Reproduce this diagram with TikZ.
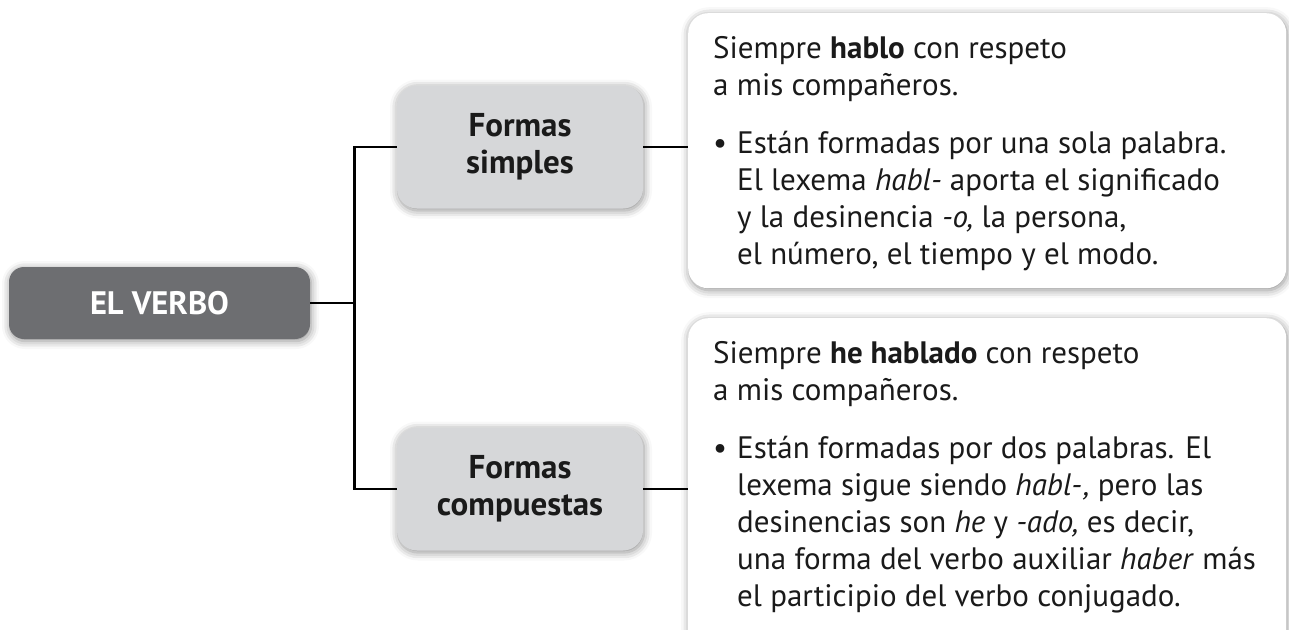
\documentclass[tikz,border=0pt]{standalone}
\usepackage{fontspec}
\setmainfont{PT Sans}
\usepackage{xcolor}
\usetikzlibrary{calc,shadows.blur}
\definecolor{verbogray}{HTML}{6D6E71}
\definecolor{formagray}{HTML}{D6D7D9}
\definecolor{inkblack}{HTML}{1A1A1A}
\newcommand{\bulitem}{\makebox[24pt][l]{\textbullet}}
\newcommand{\bulind}{\hspace*{24pt}}

\begin{document}
\begin{tikzpicture}[x=1pt,y=-1pt,
  % soft shadow shared by all boxes
  softshadow/.style={blur shadow={shadow xshift=1pt, shadow yshift=-2pt, shadow blur radius=8pt, shadow opacity=45}},
  verbobox/.style={rounded corners=15pt, fill=verbogray, text=white, softshadow,
    font=\bfseries\fontsize{32.5}{37}\selectfont, minimum width=301pt, minimum height=72pt},
  formabox/.style={rounded corners=20pt, fill=formagray, text=inkblack, softshadow, align=center,
    font=\bfseries\fontsize{33}{37}\selectfont, minimum width=246pt, minimum height=123pt},
  ejbox/.style={rounded corners=20pt, fill=white, softshadow, anchor=north west, minimum width=598pt},
  ejtext/.style={anchor=north west, inner sep=0pt, align=left, text=inkblack,
    font=\fontsize{31}{37}\selectfont},
  conn/.style={line width=2.7pt, black}]

  \path[use as bounding box, clip] (0,0) rectangle (1289,629);

  % Main concept and the two forms
  \node[verbobox] (verbo) at (159.5,303) {EL VERBO};
  \node[formabox] (simples) at (520,147) {Formas\\simples};
  \node[formabox] (compuestas) at (520,489) {Formas\\compuestas};

  % Example boxes
  \node[ejbox, minimum height=275pt] (ej1) at (688,13) {};
  \node[ejbox, minimum height=340pt] (ej2) at (688,318) {};

  \node[ejtext] (ej1text) at ([shift={(25,23)}]ej1.north west) {%
    Siempre \textbf{hablo} con respeto\\
    a mis compañeros.\\[21pt]
    \bulitem Están formadas por una sola palabra.\\
    \bulind El lexema \textit{habl-} aporta el significado\\
    \bulind y la desinencia \textit{-o,} la persona,\\
    \bulind el número, el tiempo y el modo.};

  \node[ejtext] (ej2text) at ([shift={(25,23)}]ej2.north west) {%
    Siempre \textbf{he hablado} con respeto\\
    a mis compañeros.\\[21pt]
    \bulitem Están formadas por dos palabras. El\\
    \bulind lexema sigue siendo \textit{habl-\kern1.5pt,} pero las\\
    \bulind desinencias son \textit{he} y \textit{-ado,} es decir,\\
    \bulind una forma del verbo auxiliar \textit{haber} más\\
    \bulind el participio del verbo conjugado.};

  % Connectors
  \coordinate (fork) at ([xshift=44pt]verbo.east);
  \draw[conn] (verbo.east) -- (fork);
  \draw[conn] (simples.west) -| (fork) |- (compuestas.west);
  \draw[conn] (simples.east) -- (simples.east -| ej1.west);
  \draw[conn] (compuestas.east) -- (compuestas.east -| ej2.west);
\end{tikzpicture}
\end{document}
